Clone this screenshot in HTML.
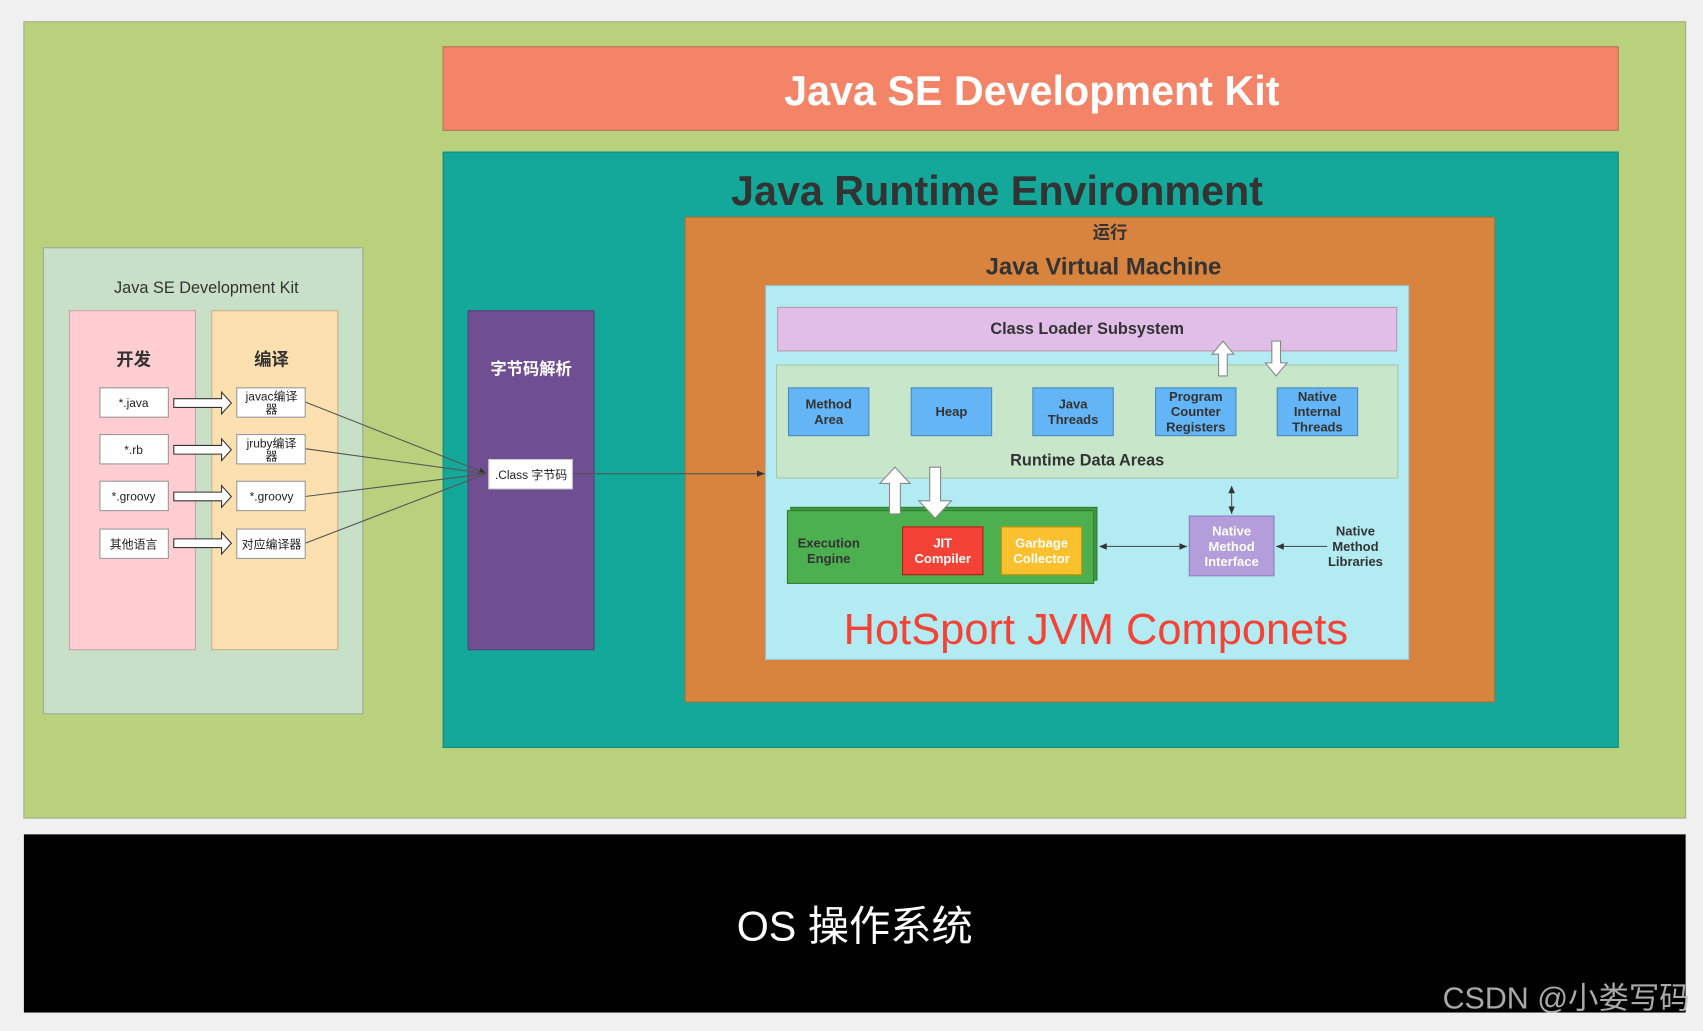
<!DOCTYPE html>
<html><head><meta charset="utf-8"><style>
html,body{margin:0;padding:0;background:#f0f0f0;width:1703px;height:1031px;overflow:hidden}
svg{display:block}
text{font-family:"Liberation Sans","Noto Sans CJK SC",sans-serif;text-anchor:middle;dominant-baseline:central}
</style></head><body>
<svg width="1703" height="1031" viewBox="0 0 1568 949" preserveAspectRatio="none" xmlns="http://www.w3.org/2000/svg">
<defs>
<marker id="ah" markerWidth="8" markerHeight="8" refX="7" refY="4" orient="auto" markerUnits="userSpaceOnUse"><path d="M0,1 L7,4 L0,7 Z" fill="#333"/></marker>
<marker id="as" markerWidth="8" markerHeight="8" refX="1" refY="4" orient="auto" markerUnits="userSpaceOnUse"><path d="M7,1 L0,4 L7,7 Z" fill="#333"/></marker>
</defs>
<rect width="1568" height="949" fill="#f0f0f0"/>
<rect x="22" y="20" width="1530" height="733" fill="#b9d07c" stroke="#9fae86"/>
<rect x="408" y="43" width="1082" height="77" fill="#f48468" stroke="#b9735a"/>
<text x="950" y="84" font-size="38" font-weight="bold" fill="#fff">Java SE Development Kit</text>
<rect x="408" y="140" width="1082" height="548" fill="#13a89a" stroke="#0f8a7e"/>
<text x="918" y="176" font-size="38" font-weight="bold" fill="#333">Java Runtime Environment</text>
<rect x="631" y="200" width="745" height="446" fill="#d9843e" stroke="#b86e33"/>
<text x="1022" y="214" font-size="16" font-weight="bold" fill="#333">运行</text>
<text x="1016" y="246" font-size="22" font-weight="bold" fill="#333">Java Virtual Machine</text>
<rect x="705" y="263" width="592" height="344" fill="#b2ebf2" stroke="#9cd"/>
<rect x="716" y="283" width="570" height="40" fill="#e1bee7" stroke="#b9a"/>
<text x="1001" y="303" font-size="15" font-weight="bold" fill="#333">Class Loader Subsystem</text>
<rect x="715" y="336" width="572" height="104" fill="#c8e6c9" stroke="#a9c6aa"/>
<g font-size="12" font-weight="bold" fill="#333">
<rect x="726" y="357" width="74" height="44" fill="#64b5f6" stroke="#4a8ab8"/><text x="763" y="372">Method</text><text x="763" y="386">Area</text>
<rect x="839" y="357" width="74" height="44" fill="#64b5f6" stroke="#4a8ab8"/><text x="876" y="379">Heap</text>
<rect x="951" y="357" width="74" height="44" fill="#64b5f6" stroke="#4a8ab8"/><text x="988" y="372">Java</text><text x="988" y="386">Threads</text>
<rect x="1064" y="357" width="74" height="44" fill="#64b5f6" stroke="#4a8ab8"/><text x="1101" y="365">Program</text><text x="1101" y="379">Counter</text><text x="1101" y="393">Registers</text>
<rect x="1176" y="357" width="74" height="44" fill="#64b5f6" stroke="#4a8ab8"/><text x="1213" y="365">Native</text><text x="1213" y="379">Internal</text><text x="1213" y="393">Threads</text>
</g>
<text x="1001" y="424" font-size="15" font-weight="bold" fill="#333">Runtime Data Areas</text>
<rect x="728" y="467" width="282" height="67" fill="#3f9a43" stroke="#2e7d32"/>
<rect x="725" y="470" width="282" height="67" fill="#4caf50" stroke="#2e7d32"/>
<g fill="#fff" stroke="#888" stroke-width="1">
<path d="M1122,346 L1122,326 L1116,326 L1126,314 L1136,326 L1130,326 L1130,346 Z"/>
<path d="M1171,314 L1179,314 L1179,334 L1185,334 L1175,346 L1165,334 L1171,334 Z"/>
<path d="M819,473 L819,445 L810,445 L824,430 L838,445 L829,445 L829,473 Z"/>
<path d="M856,430 L866,430 L866,461 L876,461 L861,477 L846,461 L856,461 Z"/>
</g>
<g font-size="12" font-weight="bold">
<text x="763" y="500" fill="#333">Execution</text><text x="763" y="514" fill="#333">Engine</text>
<rect x="831" y="485" width="74" height="44" fill="#f44336" stroke="#b71c1c"/><text x="868" y="500" fill="#fff">JIT</text><text x="868" y="514" fill="#fff">Compiler</text>
<rect x="922" y="485" width="74" height="44" fill="#fbc02d" stroke="#c49000"/><text x="959" y="500" fill="#fff">Garbage</text><text x="959" y="514" fill="#fff">Collector</text>
<rect x="1095" y="475" width="78" height="55" fill="#b39ddb" stroke="#8e7cc3"/><text x="1134" y="489" fill="#fff">Native</text><text x="1134" y="503" fill="#fff">Method</text><text x="1134" y="517" fill="#fff">Interface</text>
<text x="1248" y="489" fill="#333">Native</text><text x="1248" y="503" fill="#333">Method</text><text x="1248" y="517" fill="#333">Libraries</text>
</g>
<g stroke="#555" stroke-width="1" fill="none">
<line x1="1013" y1="503" x2="1093" y2="503" marker-end="url(#ah)" marker-start="url(#as)"/>
<line x1="1222" y1="503" x2="1175" y2="503" marker-end="url(#ah)"/>
<line x1="1134" y1="448" x2="1134" y2="473" marker-end="url(#ah)" marker-start="url(#as)"/>
</g>
<text x="1009" y="580" font-size="40" fill="#f44336">HotSport JVM Componets</text>
<rect x="431" y="286" width="116" height="312" fill="#6f4e91" stroke="#574078"/>
<text x="489" y="340" font-size="15" font-weight="bold" fill="#fff">字节码解析</text>
<rect x="40" y="228" width="294" height="429" fill="#c8e0c8" stroke="#9aaa9a"/>
<text x="190" y="265" font-size="15" fill="#333">Java SE Development Kit</text>
<rect x="64" y="286" width="116" height="312" fill="#ffcdd2" stroke="#c9a3a7"/>
<rect x="195" y="286" width="116" height="312" fill="#fde0b0" stroke="#c9b08a"/>
<text x="123" y="331" font-size="16" font-weight="bold" fill="#333">开发</text>
<text x="250" y="331" font-size="16" font-weight="bold" fill="#333">编译</text>
<g stroke="#555" stroke-width="1" fill="none">
<line x1="281" y1="370" x2="448" y2="436" marker-end="url(#ah)"/>
<line x1="281" y1="413" x2="448" y2="436"/>
<line x1="281" y1="457" x2="448" y2="436"/>
<line x1="281" y1="500" x2="448" y2="436"/>
<line x1="527" y1="436" x2="704" y2="436" marker-end="url(#ah)"/>
</g>
<g font-size="11" fill="#222">
<g fill="#fff" stroke="#999">
<rect x="92" y="357" width="63" height="27"/><rect x="92" y="400" width="63" height="27"/><rect x="92" y="443" width="63" height="27"/><rect x="92" y="487" width="63" height="27"/>
<rect x="218" y="357" width="63" height="27"/><rect x="218" y="400" width="63" height="27"/><rect x="218" y="443" width="63" height="27"/><rect x="218" y="487" width="63" height="27"/>
<rect x="450" y="423" width="77" height="27" stroke="#ccc"/>
</g>
<text x="123" y="371">*.java</text><text x="123" y="414">*.rb</text><text x="123" y="457">*.groovy</text><text x="123" y="501">其他语言</text>
<text x="250" y="365">javac编译</text><text x="250" y="377">器</text>
<text x="250" y="408">jruby编译</text><text x="250" y="420">器</text>
<text x="250" y="457">*.groovy</text><text x="250" y="501">对应编译器</text>
<text x="489" y="437">.Class 字节码</text>
</g>
<g fill="#fff" stroke="#333" stroke-width="1">
<path d="M160,367 L204,367 L204,361 L213,371 L204,381 L204,375 L160,375 Z"/>
<path d="M160,410 L204,410 L204,404 L213,414 L204,424 L204,418 L160,418 Z"/>
<path d="M160,453 L204,453 L204,447 L213,457 L204,467 L204,461 L160,461 Z"/>
<path d="M160,496 L204,496 L204,490 L213,500 L204,510 L204,504 L160,504 Z"/>
</g>
<rect x="22" y="768" width="1530" height="164" fill="#000"/>
<text x="787" y="853" font-size="38" fill="#fff">OS 操作系统</text>
<text x="1442" y="919" font-size="28" fill="#bbb" fill-opacity="0.9">CSDN @小娄写码</text>
</svg>
</body></html>
